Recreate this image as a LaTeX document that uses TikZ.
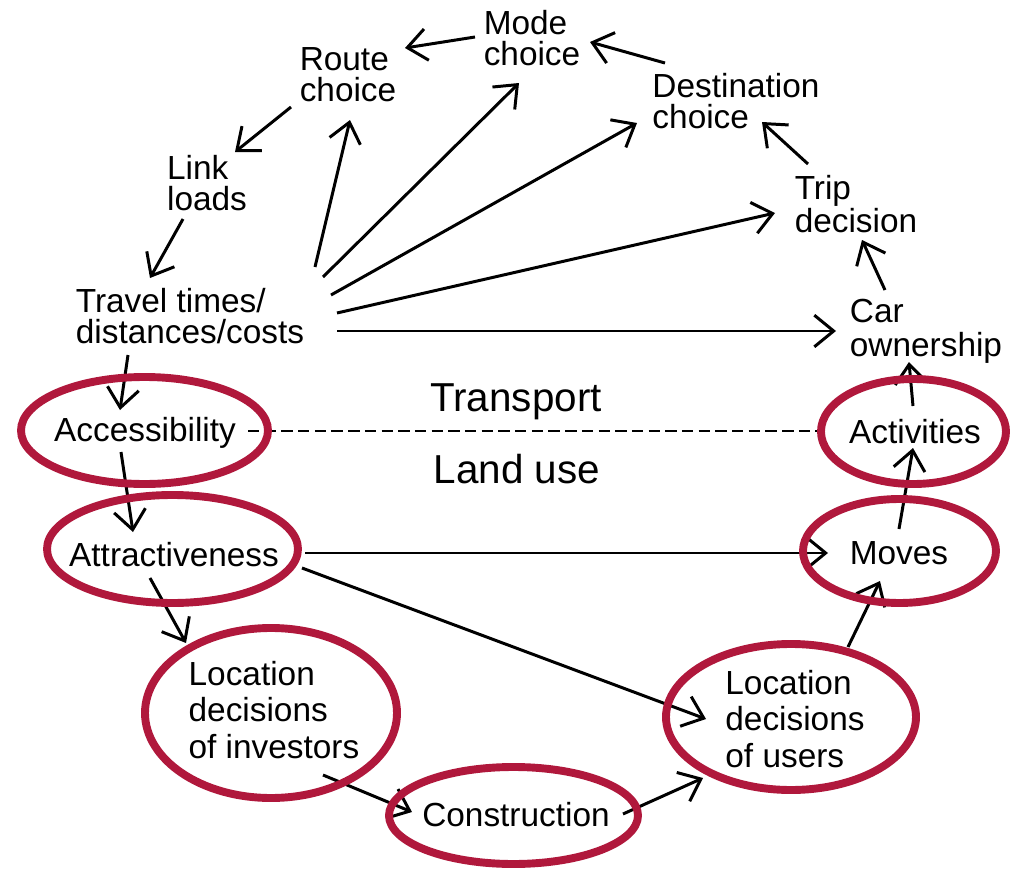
\documentclass[tikz,border=0pt]{standalone}
\usepackage{fontspec}
\setmainfont{Liberation Sans}
\usetikzlibrary{arrows.meta}
\definecolor{ringred}{RGB}{176,24,60}
\tikzset{
  lbl/.style={align=left, inner sep=0pt, font=\fontsize{19}{17.6}\selectfont},
  lbltall/.style={lbl, font=\fontsize{19}{21}\selectfont},
  side/.style={inner sep=0pt, font=\fontsize{23}{26}\selectfont},
  arr/.style={line width=1.7pt, -{Straight Barb[length=11pt,width=18pt]}},
  ring/.style={draw=ringred, line width=4.5pt},
}
\begin{document}
\begin{tikzpicture}[x=0.02cm, y=-0.02cm]
\useasboundingbox (0,0) rectangle (1012,872);
% transport side
\node[lbl] (mode) at (532,38) {Mode\\choice};
\node[lbl] (route) at (348,75) {Route\\choice};
\node[lbl] (dest) at (736,101) {Destination\\choice};
\node[lbl] (link) at (207,183) {Link\\loads};
\node[lbl] (trip) at (856,204) {Trip\\decision};
\node[lbl] (travel) at (190,316) {Travel times/\\distances/costs};
\node[lbl, font=\fontsize{19}{19.3}\selectfont] (car) at (926,331) {Car\\ownership};
\node[side] (transport) at (516,402) {Transport};
\node[side] (landuse) at (517,469) {Land use};
% land use side
\node[lbl] (acc) at (145,433) {Accessibility};
\node[lbl] (act) at (915,432) {Activities};
\node[lbl] (attr) at (174,555) {Attractiveness};
\node[lbl] (moves) at (899,553) {Moves};
\node[lbltall] (inv) at (274,710) {Location\\decisions\\of investors};
\node[lbltall] (users) at (795,719) {Location\\decisions\\of users};
\node[lbl] (constr) at (516,815) {Construction};

\draw[arr] ([shift={(-57,-1)}]mode.center) -- ([shift={(57,-27)}]route.center);
\draw[arr] ([shift={(-71,-38)}]dest.center) -- ([shift={(58,4)}]mode.center);
\draw[arr] ([shift={(-57,32)}]route.center) -- ([shift={(28,-31)}]link.center);
\draw[arr] ([shift={(-24,36)}]link.center) -- ([shift={(-40,-38)}]travel.center);
\draw[arr] ([shift={(125,-49)}]travel.center) -- ([shift={(2,45)}]route.center);
\draw[arr] ([shift={(133,-39)}]travel.center) -- ([shift={(-13,45)}]mode.center);
\draw[arr] ([shift={(141,-21)}]travel.center) -- ([shift={(-99,22)}]dest.center);
\draw[arr] ([shift={(147,-3)}]travel.center) -- ([shift={(-81,9)}]trip.center);
\draw[arr] ([shift={(147,15)}]travel.center) -- ([shift={(-90,0)}]car.center);
\draw[arr] ([shift={(-48,-40)}]trip.center) -- ([shift={(26,21)}]dest.center);
\draw[arr] ([shift={(-41,-41)}]car.center) -- ([shift={(6,36)}]trip.center);
\draw[arr] ([shift={(-2,-26)}]act.center) -- ([shift={(-17,31)}]car.center);
\draw[arr] ([shift={(-62,39)}]travel.center) -- ([shift={(-25,-23)}]acc.center);
\draw[line width=1.5pt, dash pattern=on 6.5pt off 3pt] ([shift={(103,-2)}]acc.center) -- ([shift={(-98,-1)}]act.center);
\draw[arr] ([shift={(-24,19)}]acc.center) -- ([shift={(-41,-23)}]attr.center);
\draw[arr] ([shift={(0,-24)}]moves.center) -- ([shift={(-2,16)}]act.center);
\draw[arr] ([shift={(131,-2)}]attr.center) -- ([shift={(-71,0)}]moves.center);
\draw[arr] ([shift={(128,13)}]attr.center) -- ([shift={(-89,0)}]users.center);
\draw[arr] ([shift={(-24,23)}]attr.center) -- ([shift={(-88,-67)}]inv.center);
\draw[arr] ([shift={(49,65)}]inv.center) -- ([shift={(-104,-3)}]constr.center);
\draw[arr] ([shift={(107,-1)}]constr.center) -- ([shift={(-92,59)}]users.center);
\draw[arr] ([shift={(53,-72)}]users.center) -- ([shift={(-19,28)}]moves.center);

% red rings
\draw[ring] (144.5,430.5) ellipse [x radius=123.5, y radius=53.5];
\draw[ring] (913.5,431.5) ellipse [x radius=92.5, y radius=52.5];
\draw[ring] (172.5,549) ellipse [x radius=125.5, y radius=54];
\draw[ring] (899.5,551) ellipse [x radius=96.5, y radius=52];
\draw[ring] (271,713) ellipse [x radius=126, y radius=85];
\draw[ring] (791,717) ellipse [x radius=125, y radius=73];
\draw[ring] (513.5,815.5) ellipse [x radius=124.5, y radius=48.5];
\end{tikzpicture}
\end{document}
